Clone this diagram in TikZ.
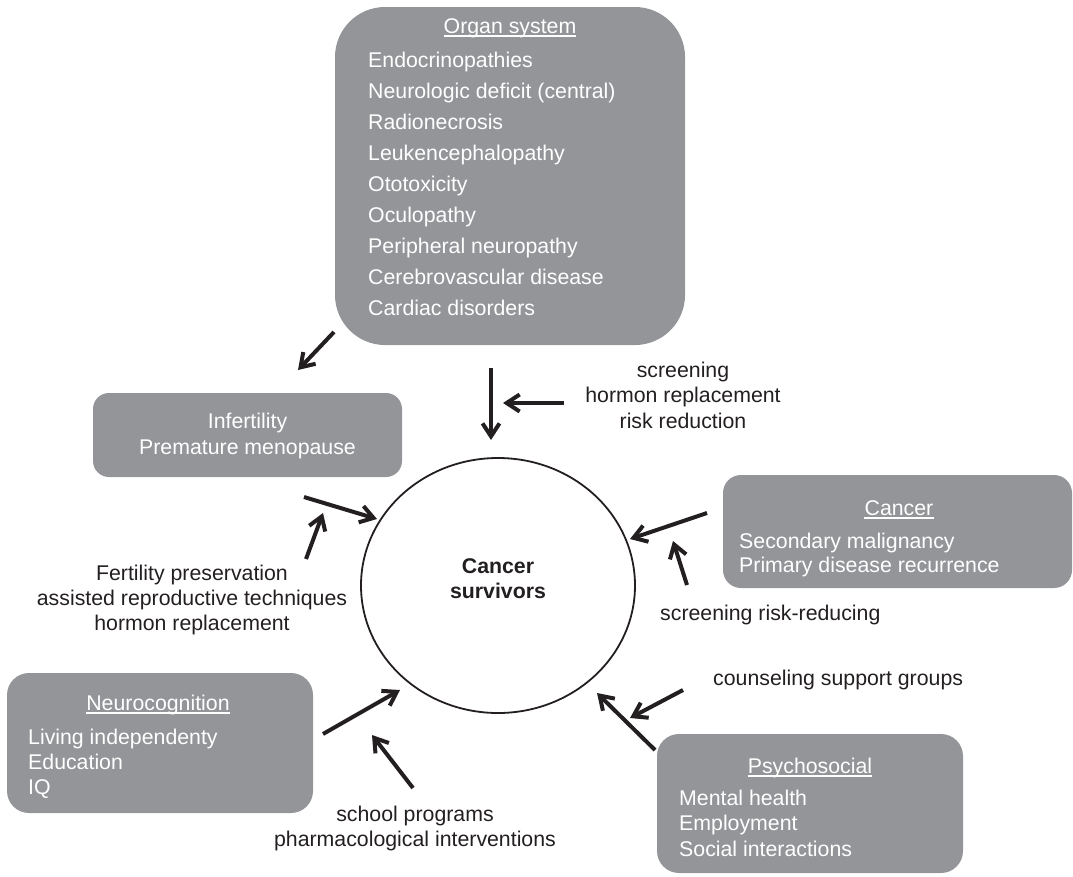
\documentclass[tikz,border=0pt]{standalone}
\usepackage{fontspec}
\setmainfont{Liberation Sans}
\usetikzlibrary{arrows.meta,shapes.geometric}
\definecolor{boxgray}{HTML}{939598}
\definecolor{ink}{HTML}{231F20}
\tikzset{
  box/.style={fill=boxgray, draw=none, inner sep=0, rounded corners=#1},
  box/.default=16pt,
  intext/.style={text=white, font=\fontsize{21.3}{25}\selectfont, inner sep=0},
  lbl/.style={text=ink, font=\fontsize{21.3}{25}\selectfont, inner sep=0},
  uline/.style={draw=white, line width=1.3pt},
  arr/.style={draw=ink, line width=4pt, -{Straight Barb[sharp,length=13pt,width=17pt]}},
}
\begin{document}
\begin{tikzpicture}[x=1pt,y=-1pt]
\useasboundingbox (0,0) rectangle (1073,876);

% ---- grey boxes
\node[box=50pt, minimum width=350pt, minimum height=338pt] (organ) at (510,176) {};
\node[box=16pt, minimum width=309pt, minimum height=84pt]  (infert) at (247.5,435) {};
\node[box=18pt, minimum width=349pt, minimum height=113pt] (cancer) at (897.5,531.5) {};
\node[box=22pt, minimum width=306pt, minimum height=140pt] (neuro) at (160,743) {};
\node[box=22pt, minimum width=306pt, minimum height=139pt] (psycho) at (810,803.5) {};

% ---- central ellipse
\node[draw=ink, line width=1.8pt, ellipse, minimum width=274pt, minimum height=255pt, inner sep=0] (surv) at (498,585.5) {};
\node[lbl, anchor=base, font=\fontsize{21.3}{25}\selectfont\bfseries] (survA) at (498,573) {Cancer};
\node[lbl, anchor=base, font=\fontsize{21.3}{25}\selectfont\bfseries] (survB) at (498,598) {survivors};

% ---- organ system
\node[intext, anchor=base] (orgT) at (510,33) {Organ system};
\draw[uline] ([yshift=-3pt]orgT.base west) -- ([yshift=-3pt]orgT.base east);
\foreach \t [count=\i from 0] in {Endocrinopathies, Neurologic deficit (central), Radionecrosis, Leukencephalopathy, Ototoxicity, Oculopathy, Peripheral neuropathy, Cerebrovascular disease, Cardiac disorders}
  \node[intext, anchor=base west] (org\i) at (368,{67+31*\i}) {\t};

% ---- infertility
\node[intext, anchor=base] (inf1) at (247.5,428) {Infertility};
\node[intext, anchor=base] (inf2) at (247.5,454) {Premature menopause};

% ---- cancer
\node[intext, anchor=base] (canT) at (899,515) {Cancer};
\draw[uline] ([yshift=-3pt]canT.base west) -- ([yshift=-3pt]canT.base east);
\node[intext, anchor=base west] (can1) at (739,548) {Secondary malignancy};
\node[intext, anchor=base west] (can2) at (739,572) {Primary disease recurrence};

% ---- neurocognition
\node[intext, anchor=base] (neuT) at (158,710) {Neurocognition};
\draw[uline] ([yshift=-3pt]neuT.base west) -- ([yshift=-3pt]neuT.base east);
\node[intext, anchor=base west] (neu1) at (28,744) {Living independenty};
\node[intext, anchor=base west] (neu2) at (28,769) {Education};
\node[intext, anchor=base west] (neu3) at (28,794) {IQ};

% ---- psychosocial
\node[intext, anchor=base] (psyT) at (810,773) {Psychosocial};
\draw[uline] ([yshift=-3pt]psyT.base west) -- ([yshift=-3pt]psyT.base east);
\node[intext, anchor=base west] (psy1) at (679,805) {Mental health};
\node[intext, anchor=base west] (psy2) at (679,830.5) {Employment};
\node[intext, anchor=base west] (psy3) at (679,856) {Social interactions};

% ---- intervention labels
\node[lbl, anchor=base] (scr1) at (683,377) {screening};
\node[lbl, anchor=base] (scr2) at (683,402.5) {hormon replacement};
\node[lbl, anchor=base] (scr3) at (683,428) {risk reduction};

\node[lbl, anchor=base] (fer1) at (192,580) {Fertility preservation};
\node[lbl, anchor=base] (fer2) at (192,605) {assisted reproductive techniques};
\node[lbl, anchor=base] (fer3) at (192,630) {hormon replacement};

\node[lbl, anchor=base west] (rsk) at (660,620) {screening risk-reducing};
\node[lbl, anchor=base west] (cns) at (713,685) {counseling support groups};

\node[lbl, anchor=base] (sch1) at (415,821) {school programs};
\node[lbl, anchor=base] (sch2) at (415,846) {pharmacological interventions};

% ---- arrow end points
\coordinate (a1s) at (334,332);  \coordinate (a1e) at (298,370);
\coordinate (a2s) at (491,368);  \coordinate (a2e) at (491,440);
\coordinate (a3s) at (564,403);  \coordinate (a3e) at (503,403);
\coordinate (a4s) at (304,497);  \coordinate (a4e) at (377,519);
\coordinate (a5s) at (306,559);  \coordinate (a5e) at (323,513);
\coordinate (a6s) at (707,513);  \coordinate (a6e) at (630,539);
\coordinate (a7s) at (687,585);  \coordinate (a7e) at (673,541);
\coordinate (a8s) at (683,690);  \coordinate (a8e) at (630,718);
\coordinate (a9s) at (655,750);  \coordinate (a9e) at (597,693);
\coordinate (a10s) at (323,734); \coordinate (a10e) at (400,690);
\coordinate (a11s) at (413,788); \coordinate (a11e) at (372,735);

\foreach \k in {1,...,11}
  \draw[arr] (a\k s) -- (a\k e);
\end{tikzpicture}
\end{document}
